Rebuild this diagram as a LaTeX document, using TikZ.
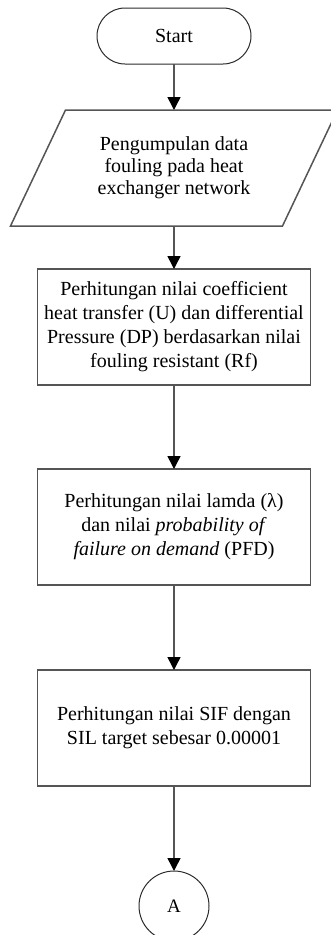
\documentclass[tikz,border=0pt]{standalone}
\usepackage{fontspec}
\setmainfont{Liberation Serif}
\usetikzlibrary{arrows.meta, positioning}
\definecolor{garisAbu}{HTML}{555555}
\definecolor{garisGelap}{HTML}{2B2B2B}

\begin{document}
\begin{tikzpicture}[
        terminal/.style={draw=garisGelap, line width=1pt, rounded corners=28pt, minimum width=154pt,
            minimum height=56pt, outer sep=0pt, font=\fontsize{20}{24}\selectfont},
        dataio/.style={minimum width=272pt, minimum height=116pt, outer sep=0pt, align=center,
            font=\fontsize{20}{22}\selectfont},
        miring/.style={draw=garisAbu, line width=1.5pt, line join=miter},
        proses/.style={draw=garisAbu, line width=1.5pt, minimum width=273pt, minimum height=116pt,
            outer sep=0pt, align=center, font=\fontsize{20}{24}\selectfont},
        konektor/.style={circle, draw=garisGelap, line width=1pt, minimum size=70pt, inner sep=0pt,
            outer sep=0pt, font=\fontsize{19}{20}\selectfont},
        alur/.style={-{Triangle[length=13pt, width=13pt, color=black]}, garisAbu, line width=1.5pt}
    ]
        \useasboundingbox (0pt,0pt) rectangle (331pt,-935pt);
        \node[terminal] (mulai) at (174pt,-36pt) {Start};
        \node[dataio, below=46pt of mulai] (dataHE) {Pengumpulan data\\fouling pada heat\\exchanger network};
        \draw[miring] ([xshift=-27.5pt]dataHE.south west) -- ([xshift=-27.5pt]dataHE.south east)
            -- ([xshift=27.5pt]dataHE.north east) -- ([xshift=27.5pt]dataHE.north west) -- cycle;
        \node[proses, below=43pt of dataHE] (hitungU) {Perhitungan nilai coefficient\\heat transfer (U) dan differential\\Pressure (DP) berdasarkan nilai\\fouling resistant (Rf)};
        \node[proses, below=84pt of hitungU] (hitungPFD) {Perhitungan nilai lamda (λ)\\dan nilai \textit{probability of}\\\textit{failure on demand} (PFD)};
        \node[proses, below=85pt of hitungPFD] (hitungSIF) {Perhitungan nilai SIF dengan\\SIL target sebesar 0.00001};
        \node[konektor, below=85pt of hitungSIF] (konA) {A};
        \draw[alur] (mulai) -- (dataHE);
        \draw[alur] (dataHE) -- (hitungU);
        \draw[alur] (hitungU) -- (hitungPFD);
        \draw[alur] (hitungPFD) -- (hitungSIF);
        \draw[alur] (hitungSIF) -- (konA);
    \end{tikzpicture}
\end{document}
